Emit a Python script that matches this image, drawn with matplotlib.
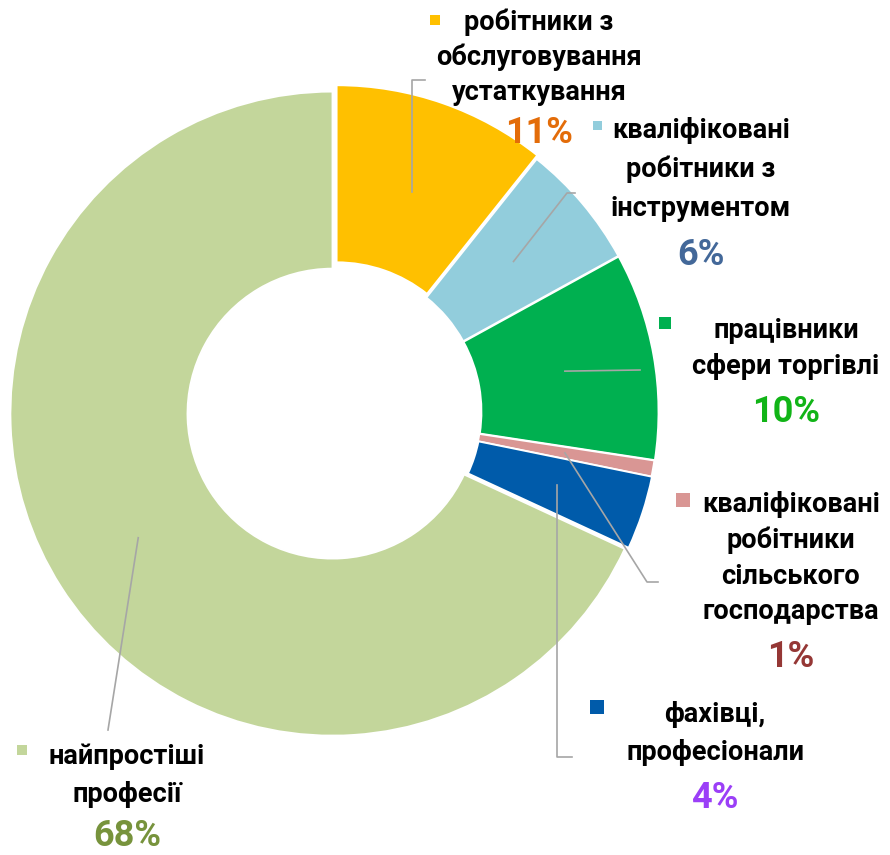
import math

import matplotlib
matplotlib.use("Agg")
import matplotlib.pyplot as plt

# частки (у %), за годинниковою стрілкою від 12-ї години
categories = [
    "робітники з\nобслуговування\nустаткування",
    "кваліфіковані\nробітники з\nінструментом",
    "працівники\nсфери торгівлі",
    "кваліфіковані\nробітники\nсільського\nгосподарства",
    "фахівці,\nпрофесіонали",
    "найпростіші\nпрофесії",
]
shares = [10.7, 6.3, 10.4, 0.8, 3.7, 68.1]
slice_colors = ["#FFC000", "#92CDDC", "#00B050", "#D99694", "#005BAA", "#C3D69B"]
pct_colors = ["#E36C09", "#436899", "#11B417", "#953735", "#9B3FF7", "#77933C"]

W, H = 890, 855
FONT = ["Roboto", "DejaVu Sans"]


def P(x, y):
    # пікселі картинки -> координати осей (y вгору)
    return x, H - y


fig = plt.figure(figsize=(8.9, 8.55), dpi=100)
ax = fig.add_axes([0, 0, 1, 1])

cx, cy = 335, 412
R, r_in = 322, 145
explode = [5, 1.5, 1.5, 1.0, 1.5, 3]
ax.pie(shares, colors=slice_colors, startangle=90, counterclock=False,
       radius=R, center=P(cx, cy), explode=explode,
       wedgeprops=dict(width=R - r_in, edgecolor="white", linewidth=1.3))

ax.set_xlim(0, W)
ax.set_ylim(0, H)
ax.set_aspect("equal")
ax.axis("off")

# середні кути секторів -> початок виносок
mids = []
acc = 0.0
for s in shares:
    mids.append(90 - (acc + s / 2) * 3.6)
    acc += s
r_mid = (R + r_in) / 2
starts = [(cx + r_mid * math.cos(math.radians(a)), cy - r_mid * math.sin(math.radians(a)))
          for a in mids]

# виноски (у пікселях картинки): точки після початку
leaders = [
    [(None, 80), (425, 80)],
    [(567, 193), (575, 193)],
    [(640, 370)],
    [(647, 582), (658, 582)],
    [(None, 757), (572, 757)],
    [(108, 730)],
]
for (sx, sy), pts in zip(starts, leaders):
    xs, ys = [sx], [sy]
    for px, py in pts:
        xs.append(sx if px is None else px)
        ys.append(py)
    ax.plot(xs, [H - y for y in ys], color="#A6A6A6", lw=1.2, zorder=3)

# підписи: центр тексту, y першого рядка, y відсотка, маркер
text_pos = [(539, 22, 133, (435, 20, 10)),
            (701, 130, 255, (597, 125, 9)),
            (786, 330, 412, (665, 323, 12)),
            (791, 505, 657, (683, 500, 14)),
            (715, 715, 798, (597, 707, 14)),
            (127, 757, 836, (22, 750, 10))]
line_h = [35, 39, 37, 35.5, 38, 38]

for cat, s, pc, sc, (tx, ty, py, (mx, my, ms)), lh in zip(
        categories, shares, pct_colors, slice_colors, text_pos, line_h):
    for i, line in enumerate(cat.split("\n")):
        ax.text(*P(tx, ty + i * lh), line, ha="center", va="center",
                fontsize=19.5, fontweight="bold", color="black", family=FONT)
    ax.text(*P(tx, py), f"{round(s):.0f}%", ha="center", va="center",
            fontsize=26, fontweight="bold", color=pc, family=FONT)
    ax.scatter(*P(mx, my), s=(ms * 0.72) ** 2, marker="s", color=sc,
               linewidths=0, zorder=4)

fig.savefig("out.png", dpi=100)
